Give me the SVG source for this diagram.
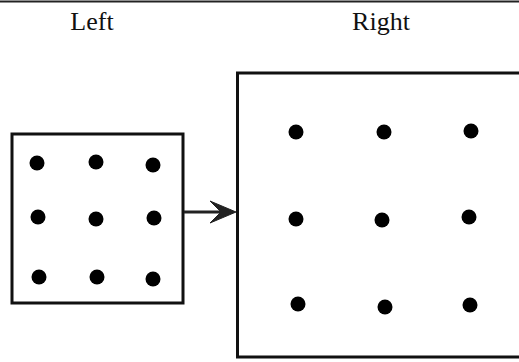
<svg xmlns="http://www.w3.org/2000/svg" width="519" height="362" viewBox="0 0 519 362">
<style>
.box{fill:#fff;stroke:#111;stroke-width:3}
.dot{fill:#000}
.lbl{font-family:"Liberation Serif","Times New Roman",serif;font-size:26px;fill:#111;text-anchor:middle}
.conn{stroke:#222;stroke-width:3;fill:none}
</style>
<rect width="519" height="362" fill="#fff"/>
<line x1="0" y1="1.5" x2="519" y2="1.5" stroke="#222" stroke-width="2"/>
<text class="lbl" x="92" y="30">Left</text>
<text class="lbl" x="381" y="30">Right</text>
<g id="left">
<rect class="box" x="12" y="134" width="171" height="169"/>
<circle class="dot" cx="37" cy="163" r="7.5"/>
<circle class="dot" cx="96" cy="162" r="7.5"/>
<circle class="dot" cx="153" cy="165" r="7.5"/>
<circle class="dot" cx="38" cy="217" r="7.5"/>
<circle class="dot" cx="96" cy="219" r="7.5"/>
<circle class="dot" cx="154" cy="218" r="7.5"/>
<circle class="dot" cx="39" cy="277" r="7.5"/>
<circle class="dot" cx="97" cy="277" r="7.5"/>
<circle class="dot" cx="153" cy="279" r="7.5"/>
</g>
<g id="right">
<path class="box" d="M525 73 L237.5 73 L237.5 357 L525 357"/>
<circle class="dot" cx="296" cy="132" r="7.5"/>
<circle class="dot" cx="384" cy="132" r="7.5"/>
<circle class="dot" cx="471" cy="131" r="7.5"/>
<circle class="dot" cx="296" cy="219" r="7.5"/>
<circle class="dot" cx="382" cy="220" r="7.5"/>
<circle class="dot" cx="469" cy="217" r="7.5"/>
<circle class="dot" cx="298" cy="304" r="7.5"/>
<circle class="dot" cx="385" cy="307" r="7.5"/>
<circle class="dot" cx="470" cy="305" r="7.5"/>
</g>
<g id="connectors">
<line class="conn" x1="184" y1="212" x2="232" y2="212"/>
<path d="M210,201 L236,212 L210,223 L221,212 Z" fill="#222" stroke="#222" stroke-width="1" stroke-linejoin="miter"/>
</g>
</svg>
